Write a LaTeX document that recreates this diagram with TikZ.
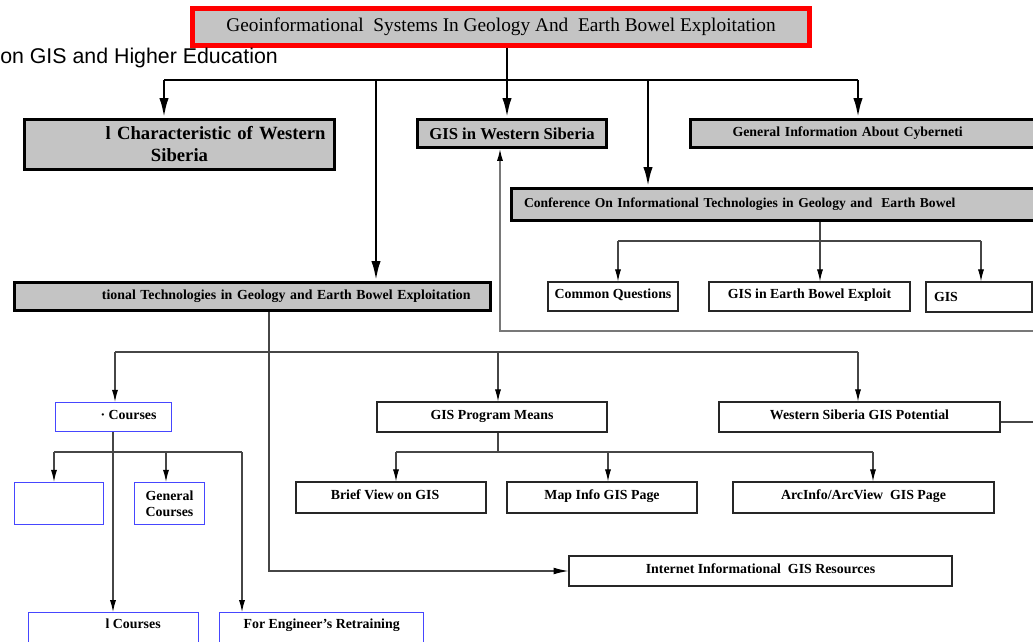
\documentclass[tikz,border=0pt]{standalone}
\usepackage{fontspec}
\setmainfont{Liberation Serif}
\newfontfamily\sansf{Liberation Sans}
\usetikzlibrary{arrows.meta}
\definecolor{boxgray}{RGB}{196,196,196}
\definecolor{lgray}{RGB}{70,70,70}
\definecolor{rgray}{RGB}{120,120,120}
\definecolor{bblue}{RGB}{70,70,255}
\tikzset{
  wh/.style 2 args={minimum width={#1*0.75pt}, minimum height={#2*0.75pt}},
  base/.style={inner sep=0pt, font=\fontsize{10.4}{12}\selectfont\bfseries},
  gbox/.style={base, draw=black, line width=2.2pt, fill=boxgray},
  wbox/.style={base, draw=black!85, line width=0.9pt, fill=white},
  onel/.style={text height=0.7em, text depth=0.35em},
  bbox/.style={base, draw=bblue, line width=1pt, fill=white},
  thk/.style={line width=2.2pt, black},
  thka/.style={thk, -{Latex[length=15pt,width=7pt]}},
  thn/.style={line width=0.8pt, lgray},
  thna/.style={thn, -{Latex[length=9pt,width=4.6pt,color=black]}},
}
\begin{document}
\begin{tikzpicture}[x=0.75pt,y=-0.75pt]
\useasboundingbox (0,0) rectangle (1033,642);
\clip (0,0) rectangle (1033,642);
% ---- nodes ----
\node[gbox, draw=red, line width=3.75pt, wh={617}{37}, font=\fontsize{14.5}{17}\selectfont] (top) at (501,27) {Geoinformational\ \ Systems In Geology And\ \ Earth Bowel Exploitation};
\node[anchor=west, inner sep=0pt, font=\sansf\fontsize{16}{18}\selectfont] (sub) at (0,58) {on GIS and Higher Education};
\node[gbox, wh={310}{50}, font=\fontsize{14}{16.5}\selectfont\bfseries, text width=219pt, align=center] (char) at (179.5,144.5) {\hfill l Characteristic of Western\\Siberia};
\node[gbox, wh={189}{28}, font=\fontsize{12.5}{15}\selectfont\bfseries] (wsib) at (512,133.5) {GIS in Western Siberia};
\node[gbox, wh={368}{28}, inner xsep=31.5pt, text width=213pt, align=left] (gen) at (874.5,133.5) {General Information About Cyberneti};
\node[gbox, wh={547}{32}, inner xsep=9.4pt, text width=391.5pt, align=left, font=\fontsize{10.2}{12}\selectfont\bfseries] (conf) at (785,204.5) {Conference On Informational Technologies in Geology and\ \ Earth Bowel};
\node[wbox, onel, wh={130}{29}] (cq) at (613,296.5) {Common Questions};
\node[wbox, onel, wh={201}{29}] (geb) at (809.5,296.5) {GIS in Earth Bowel Exploit};
\node[wbox, wh={106}{30}, inner xsep=6pt, text width=67.5pt, align=left] (gis) at (979,297) {GIS};
\node[gbox, wh={476}{28}, inner xsep=15pt, text width=327pt, align=right] (tional) at (252.5,296.5) {tional Technologies in Geology and Earth Bowel Exploitation};
\node[bbox, onel, wh={116}{29}] (courses) at (113.5,417) {\makebox[64.5pt][r]{· Courses}};
\node[wbox, onel, wh={230}{30}] (gpm) at (492,417) {GIS Program Means};
\node[wbox, onel, wh={281}{30}] (wsgp) at (859.5,417) {Western Siberia GIS Potential};
\node[bbox, wh={89}{42}] (empty) at (59,503.5) {};
\node[bbox, wh={70}{42}, align=center] (genc) at (169.5,503.5) {General\\Courses};
\node[wbox, onel, wh={190}{31}] (brief) at (391,497.5) {\makebox[134pt]{\hspace*{-9pt}Brief View on GIS}};
\node[wbox, onel, wh={190}{31}] (mapinfo) at (602,497.5) {Map Info GIS Page};
\node[wbox, onel, wh={261}{31}] (arcinfo) at (863.5,497.5) {ArcInfo/ArcView\ \ GIS Page};
\node[wbox, onel, wh={383}{30}] (inet) at (760.5,571) {Internet Informational\ \ GIS Resources};
\node[bbox, anchor=north west, minimum width=127.5pt, inner ysep=5.6pt, text height=6pt, text depth=30pt] (lcourses) at (28,612) {\makebox[70.5pt][r]{l Courses}};
\node[bbox, anchor=north west, minimum width=153pt, inner ysep=5.6pt, text height=6pt, text depth=30pt] (eng) at (219,612) {For Engineer’s Retraining};
% ---- coordinates ----
\coordinate (t0) at (507,80);
\coordinate (bL) at (164,80);
\coordinate (bR) at (858,80);
\coordinate (bA) at (376,80);
\coordinate (bB) at (648,80);
\coordinate (cL) at (618,241);
\coordinate (cR) at (981,241);
\coordinate (cM) at (820,241);
\coordinate (rE) at (1040,331);
\coordinate (rC) at (500,331);
\coordinate (tx) at (269,0);
\coordinate (mL) at (115,352);
\coordinate (mR) at (858,352);
\coordinate (mG) at (498,352);
\coordinate (gL) at (396,452);
\coordinate (gR) at (873,452);
\coordinate (gM) at (608,452);
\coordinate (g0) at (498,452);
\coordinate (wE) at (1040,422);
\coordinate (kL) at (54,452);
\coordinate (kR) at (242,452);
\coordinate (kM) at (166,452);
\coordinate (k0) at (113,0);
% ---- thick connectors ----
\draw[thk] (bL) -- (bR);
\draw[thka] (top.south -| t0) -- (wsib.north -| t0);
\draw[thka] (bL) -- (char.north -| bL);
\draw[thka] (bR) -- (gen.north -| bR);
\draw[thka] (bA) -- (tional.north -| bA);
\draw[thka] (bB) -- (conf.north -| bB);
% ---- conference subtree ----
\draw[thn] (cL) -- (cR);
\draw[thna] (conf.south -| cM) -- (geb.north -| cM);
\draw[thna] (cL) -- (cq.north -| cL);
\draw[thna] (cR) -- (gis.north -| cR);
% ---- return line ----
\draw[thna, draw=rgray, line width=1pt] (rE) -- (rC) -- (wsib.south -| rC);
% ---- technologies subtree ----
\draw[thn, -{Latex[length=11pt,width=5pt,color=black]}] (tional.south -| tx) |- (inet.west);
\draw[thn] (mL) -- (mR);
\draw[thna] (mL) -- (courses.north -| mL);
\draw[thna] (mG) -- (gpm.north -| mG);
\draw[thna] (mR) -- (wsgp.north -| mR);
\draw[thn] (gpm.south -| g0) -- (g0);
\draw[thn] (gL) -- (gR);
\draw[thna] (gL) -- (brief.north -| gL);
\draw[thna] (gM) -- (mapinfo.north -| gM);
\draw[thna] (gR) -- (arcinfo.north -| gR);
\draw[thn] (wsgp.east |- wE) -- (wE);
% ---- courses subtree ----
\draw[thn] (kL) -- (kR);
\draw[thna] (courses.south -| k0) -- (lcourses.north -| k0);
\draw[thna] (kL) -- (empty.north -| kL);
\draw[thna] (kM) -- (genc.north -| kM);
\draw[thna] (kR) -- (eng.north -| kR);
\end{tikzpicture}
\end{document}
